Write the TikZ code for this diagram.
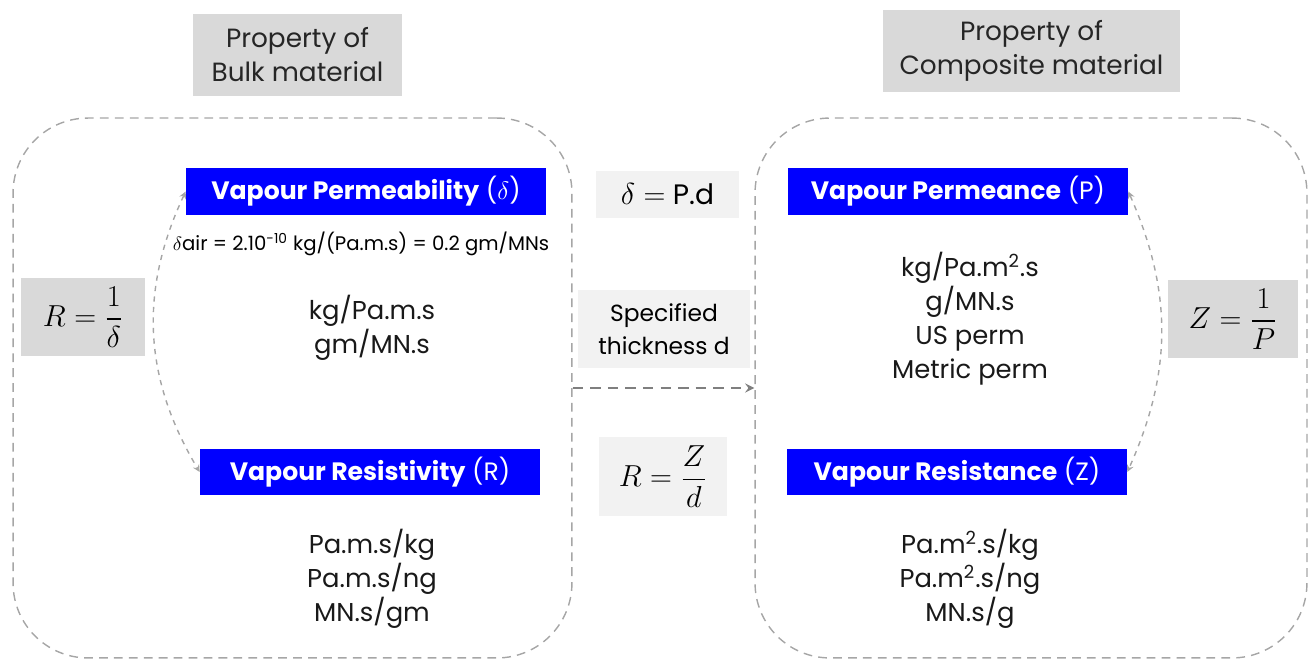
\documentclass[tikz,border=0pt]{standalone}
\usepackage{fontspec}
\usepackage{amsmath}
\setmainfont{Poppins}

\definecolor{vblue}{HTML}{0000FF}
\definecolor{hdrgray}{HTML}{D9D9D9}
\definecolor{lightfill}{HTML}{F2F2F2}
\definecolor{linegray}{HTML}{A6A6A6}
\definecolor{arrowgray}{HTML}{7F7F7F}

\begin{document}
\begin{tikzpicture}[x=0.02cm, y=-0.02cm,
    header/.style={rectangle, fill=hdrgray, align=center, text=black!85, font=\fontsize{15}{19.3}\selectfont},
    region/.style={rectangle, draw=linegray, dashed, dash pattern=on 5pt off 3.5pt, line width=0.8pt, rounded corners=1.5cm},
    prop/.style={rectangle, fill=vblue, text=white, minimum width=6.8cm, minimum height=0.94cm, font=\fontsize{14.3}{17}\selectfont},
    units/.style={align=center, text=black!90, font=\fontsize{14.7}{19.3}\selectfont},
    formula/.style={rectangle, fill=hdrgray, font=\fontsize{17.5}{20}\selectfont},
    relation/.style={rectangle, fill=lightfill, font=\fontsize{14.5}{19}\selectfont},
    link/.style={<->, >=stealth, dashed, draw=linegray, line width=0.8pt}
]
    \useasboundingbox (0,0) rectangle (1309,661);

    % Headers
    \node[header, minimum width=4.18cm, minimum height=1.64cm] (bulkhdr) at (297.5,55) {Property of\\Bulk material};
    \node[header, minimum width=5.94cm, minimum height=1.64cm] (comphdr) at (1031.5,51) {Property of\\Composite material};

    % Dashed regions
    \node[region, minimum width=11.18cm, minimum height=10.8cm] (bulk) at (292.5,388) {};
    \node[region, minimum width=11.04cm, minimum height=10.8cm] (comp) at (1031,388) {};

    % Left side: bulk material
    \node[prop, minimum width=7.2cm] (perm) at (366,191.5) {\textbf{Vapour Permeability} ($\delta$)};
    \node[font=\fontsize{11.2}{13}\selectfont] (air) at (361,244) {$\delta$air = 2.10\textsuperscript{-10} kg/(Pa.m.s) = 0.2 gm/MNs};
    \node[units] (permu) at (372,328) {kg/Pa.m.s\\gm/MN.s};

    \node[prop] (resi) at (370,472) {\textbf{Vapour Resistivity} (R)};
    \node[units] (resiu) at (372,579) {Pa.m.s/kg\\Pa.m.s/ng\\MN.s/gm};

    \node[formula, minimum width=2.48cm, minimum height=1.56cm] (rinv) at (83,317) {$R = \dfrac{1}{\delta}$};

    % Middle: relations
    \node[relation, minimum width=2.86cm, minimum height=0.94cm, font=\fontsize{16}{19}\selectfont] (dpd) at (667.5,194.5) {$\delta =$ P.d};
    \node[relation, minimum width=3.44cm, minimum height=1.56cm, align=center, font=\fontsize{13.3}{18.5}\selectfont] (thick) at (664,329) {Specified\\thickness d};
    \node[relation, minimum width=2.56cm, minimum height=1.58cm, font=\fontsize{17.5}{20}\selectfont] (rzd) at (663,476.5) {$R = \dfrac{Z}{d}$};

    % Right side: composite material
    \node[prop] (pmnc) at (958,191.5) {\textbf{Vapour Permeance} (P)};
    \node[units] (pmncu) at (970,319) {kg/Pa.m\textsuperscript{2}.s\\g/MN.s\\US perm\\Metric perm};

    \node[prop] (rstc) at (957,472) {\textbf{Vapour Resistance} (Z)};
    \node[units] (rstcu) at (970,579) {Pa.m\textsuperscript{2}.s/kg\\Pa.m\textsuperscript{2}.s/ng\\MN.s/g};

    \node[formula, minimum width=2.6cm, minimum height=1.56cm] (zinv) at (1233,319) {$Z = \dfrac{1}{P}$};

    % Connectors
    \draw[link] (perm.west) to[bend right=28] (resi.west);
    \draw[link] (pmnc.east) to[bend left=24] (rstc.east);
    \draw[->, >=stealth, dashed, dash pattern=on 6pt off 4pt, draw=arrowgray, line width=1.3pt] (bulk.east) -- (comp.west);
\end{tikzpicture}
\end{document}
